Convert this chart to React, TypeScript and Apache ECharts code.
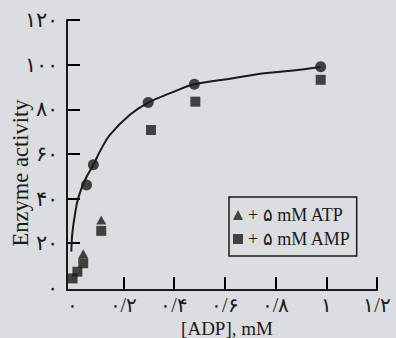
import React, { useEffect, useRef } from 'react';
import * as echarts from 'echarts';

const xTickValues = [0, 0.2, 0.4, 0.6, 0.8, 1.0, 1.2];
const xTickLabels = ['۰', '۰/۲', '۰/۴', '۰/۶', '۰/۸', '۱', '۱/۲'];
const yTickValues = [0, 20, 40, 60, 80, 100, 120];
const yTickLabels = ['۰', '۲۰', '۴۰', '۶۰', '۸۰', '۱۰۰', '۱۲۰'];

// control (no effector): measured points and hand-drawn saturation curve
const controlX = [0.055, 0.082, 0.298, 0.48, 0.978];
const controlY = [46.1, 55.1, 83.0, 91.2, 99.0];
const curveX = [-0.005, -0.001, 0.008, 0.022, 0.049, 0.082, 0.111, 0.147, 0.226, 0.298, 0.385, 0.48, 0.633, 0.765, 0.896, 0.978];
const curveY = [16.2, 24.4, 31.9, 40.1, 48.3, 55.1, 61.8, 68.5, 77.5, 83.0, 87.2, 91.2, 93.9, 96.2, 97.7, 98.9];

// + 5 mM ATP
const atpX = [0.042, 0.113];
const atpY = [15.3, 30.4];
// + 5 mM AMP
const ampX = [0, 0.019, 0.042, 0.113, 0.309, 0.484, 0.978];
const ampY = [4.2, 7.2, 11.0, 25.5, 70.7, 83.4, 93.2];

const legendNames = ['+ ۵ mM ATP', '+ ۵ mM AMP'];
const xTitle = '[ADP], mM';
const yTitle = 'Enzyme activity';

const FONT = '"Liberation Serif", "DejaVu Serif", serif';
const INK = '#1a1a1a';

const W = 396;
const H = 338;
const X_MIN = -0.022;
const X_MAX = 1.2;
const Y_MIN = -1;
const Y_MAX = 120;
const TICK_LEN = 13;

const pairs = (xs: number[], ys: number[]) => xs.map((x, i) => [x, ys[i]]);
const lookup = (vals: number[], labels: string[]) => (v: number) => {
  const i = vals.findIndex((t) => Math.abs(t - v) < 1e-6);
  return i >= 0 ? labels[i] : '';
};

export default function App() {
  const ref = useRef<HTMLDivElement>(null);
  useEffect(() => {
    if (!ref.current) return;
    const chart = echarts.init(ref.current, null, { renderer: 'svg' });

    chart.setOption({
      animation: false,
      backgroundColor: '#dcdde0',
      grid: { left: 67, right: 19, top: 20, bottom: 48, containLabel: false },
      xAxis: {
        type: 'value',
        min: X_MIN,
        max: X_MAX,
        splitLine: { show: false },
        axisLine: { show: true, onZero: false, lineStyle: { color: INK, width: 2 } },
        axisTick: {
          show: true,
          inside: true,
          length: TICK_LEN,
          customValues: xTickValues.slice(1),
          lineStyle: { color: '#000', width: 2 },
        },
        axisLabel: {
          show: true,
          customValues: xTickValues,
          formatter: lookup(xTickValues, xTickLabels),
          fontFamily: FONT,
          fontSize: 20,
          color: INK,
          margin: 5,
        },
      },
      yAxis: {
        type: 'value',
        min: Y_MIN,
        max: Y_MAX,
        splitLine: { show: false },
        axisLine: { show: true, onZero: false, lineStyle: { color: INK, width: 2 } },
        axisTick: {
          show: true,
          inside: true,
          length: TICK_LEN,
          customValues: yTickValues.slice(1),
          lineStyle: { color: '#000', width: 2 },
        },
        axisLabel: {
          show: true,
          customValues: yTickValues,
          formatter: lookup(yTickValues, yTickLabels),
          fontFamily: FONT,
          fontSize: 21,
          color: INK,
          margin: 9,
        },
      },
      legend: {
        data: [
          { name: legendNames[0], icon: 'triangle' },
          { name: legendNames[1], icon: 'rect' },
        ],
        orient: 'vertical',
        left: 229,
        top: 197,
        itemWidth: 10,
        itemHeight: 10,
        itemGap: 6,
        padding: [9, 6, 8, 4],
        borderColor: INK,
        borderWidth: 1.5,
        selectedMode: false,
        textStyle: { fontFamily: FONT, fontSize: 18, color: INK, lineHeight: 18 },
      },
      graphic: [
        {
          type: 'text',
          x: 20,
          y: 173,
          rotation: Math.PI / 2,
          style: {
            text: yTitle,
            font: `22.5px ${FONT}`,
            fill: INK,
            textAlign: 'center',
            textVerticalAlign: 'middle',
          },
        },
        {
          type: 'text',
          x: 227,
          y: 328,
          style: {
            text: xTitle,
            font: `19px ${FONT}`,
            fill: INK,
            textAlign: 'center',
            textVerticalAlign: 'middle',
          },
        },
      ],
      series: [
        {
          name: 'curve',
          type: 'line',
          data: pairs(curveX, curveY),
          smooth: 0.4,
          showSymbol: false,
          lineStyle: { color: INK, width: 2 },
          z: 1,
        },
        {
          name: 'control',
          type: 'scatter',
          data: pairs(controlX, controlY),
          symbol: 'circle',
          symbolSize: 11,
          itemStyle: { color: INK },
          z: 3,
        },
        {
          name: legendNames[0],
          type: 'scatter',
          data: pairs(atpX, atpY),
          symbol: 'triangle',
          symbolSize: [10, 9],
          itemStyle: { color: INK },
          z: 2,
        },
        {
          name: legendNames[1],
          type: 'scatter',
          data: pairs(ampX, ampY),
          symbol: 'rect',
          symbolSize: 10,
          itemStyle: { color: INK },
          z: 3,
        },
      ],
    });
    return () => chart.dispose();
  }, []);
  return (
    <div
      ref={ref}
      style={{ position: 'fixed', left: 0, top: 0, width: W, height: H }}
    />
  );
}
